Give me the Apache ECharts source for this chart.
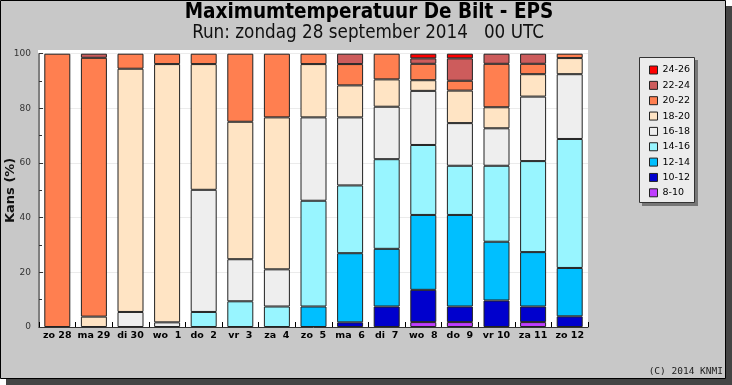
<!DOCTYPE html>
<html>
<head>
<meta charset="utf-8">
<script src="https://cdn.jsdelivr.net/npm/echarts@6/dist/echarts.min.js"></script>
<style>
html,body{margin:0;padding:0;background:#fff;}
#c{width:732px;height:385px;}
</style>
</head>
<body>
<div id="c"></div>
<script>
var days = ['zo 28','ma 29','di 30','wo  1','do  2','vr  3','za  4','zo  5','ma  6','di  7','wo  8','do  9','vr 10','za 11','zo 12'];
var classes = ['8-10','10-12','12-14','14-16','16-18','18-20','20-22','22-24','24-26'];
var colors = ['#bf3eff','#0000cd','#00bfff','#98f5ff','#eeeeee','#ffe4c4','#ff7f50','#cd5c5c','#ff0000'];
var t8_10  = [0,0,0,0,0,0,0,0,0,0,1.8,1.8,0,1.8,0];
var t10_12 = [0,0,0,0,0,0,0,0,1.7,7.5,11.8,5.7,9.7,5.7,3.9];
var t12_14 = [0,0,0,0,0,0,0,7.5,25.3,21.1,27.4,33.5,21.5,19.9,17.7];
var t14_16 = [0,0,0,0,5.5,9.4,7.5,38.7,24.8,32.8,25.6,18.0,27.8,33.3,47.2];
var t16_18 = [0,0,5.5,1.7,44.7,15.4,13.6,30.5,24.9,19.2,19.8,15.6,13.7,23.6,23.7];
var t18_20 = [0,3.8,89.0,94.5,46.0,50.3,55.6,19.5,11.7,10.0,3.9,11.9,7.7,8.2,5.9];
var t20_22 = [100,94.7,5.5,3.8,3.8,24.9,23.3,3.8,7.8,9.4,6.0,3.6,15.9,3.8,1.6];
var t22_24 = [0,1.5,0,0,0,0,0,0,3.8,0,2.0,8.2,3.7,3.7,0];
var t24_26 = [0,0,0,0,0,0,0,0,0,0,1.7,1.7,0,0,0];
var yTicks = [0,20,40,60,80,100];

var values = [t8_10,t10_12,t12_14,t14_16,t16_18,t18_20,t20_22,t22_24,t24_26];
var series = classes.map(function(name,i){
  return {
    name: name, type: 'bar', stack: 'total', barWidth: 26,
    data: values[i].map(function(v){ return v > 0 ? v : null; }),
    itemStyle: {color: colors[i], borderColor: '#222', borderWidth: 1},
    emphasis: {disabled: true}, animation: false
  };
});

var chart = echarts.init(document.getElementById('c'), null, {renderer:'canvas'});
chart.setOption({
  animation: false,
  backgroundColor: '#ffffff',
  title: [
    {text: 'Maximumtemperatuur De Bilt - EPS', left: 369, top: 2, textAlign: 'center', padding: 0,
     textStyle: {fontFamily: "'DejaVu Sans Condensed', 'DejaVu Sans'", fontWeight: 'bold', fontSize: 20.5, color: '#000'}},
    {text: 'Run: zondag 28 september 2014   00 UTC', left: 368, top: 24, textAlign: 'center', padding: 0,
     textStyle: {fontFamily: "'DejaVu Sans Condensed', 'DejaVu Sans'", fontWeight: 'normal', fontSize: 18.7, color: '#111'}}
  ],
  graphic: [
    {type:'rect', z:-10, shape:{x:6,y:6,width:726,height:379}, style:{fill:'#444'}, silent:true},
    {type:'rect', z:-9, shape:{x:0.5,y:0.5,width:725,height:378}, style:{fill:'#c8c8c8', stroke:'#000', lineWidth:1}, silent:true},
    {type:'rect', z:-8, shape:{x:38,y:50,width:550,height:277}, style:{fill:'#ffffff'}, silent:true},
    {type:'rect', z:-7, shape:{x:642,y:60,width:56,height:146}, style:{fill:'#777'}, silent:true},
    {type:'rect', z:-6, shape:{x:639.5,y:57.5,width:55,height:145}, style:{fill:'#ececec', stroke:'#333', lineWidth:1}, silent:true},
    {type:'text', z:5, x:723, y:372, style:{text:'(C) 2014 KNMI', font:"9.5px 'DejaVu Sans Mono'", fill:'#222', textAlign:'right', textVerticalAlign:'middle'}, silent:true}
  ],
  legend: {
    orient: 'vertical', left: 649, top: 65, padding: 0,
    itemWidth: 8, itemHeight: 8, itemGap: 5.35, icon: 'rect',
    data: classes.slice().reverse(),
    itemStyle: {borderColor: '#222', borderWidth: 1},
    textStyle: {fontFamily: 'DejaVu Sans', fontSize: 9.5, color: '#000'},
    selectedMode: false, z: 10
  },
  grid: {left: 39, right: 144, top: 53.7, bottom: 58, containLabel: false, outerBoundsMode: 'none'},
  xAxis: {
    type: 'category', data: days,
    axisLine: {lineStyle: {color: '#333', width: 1}},
    axisTick: {show: true, inside: true, length: 5, lineStyle: {color: '#000'}},
    axisLabel: {interval: 0, margin: 4, fontFamily: 'DejaVu Sans', fontWeight: 'bold', fontSize: 9.5, color: '#000'},
    splitLine: {show: false}
  },
  yAxis: {
    type: 'value', min: 0, max: 100, interval: 20,
    name: 'Kans (%)', nameLocation: 'middle', nameGap: 22, nameRotate: 90, nameMoveOverlap: false,
    nameTextStyle: {fontFamily: 'DejaVu Sans', fontWeight: 'bold', fontSize: 13, color: '#111'},
    axisLine: {show: true, lineStyle: {color: '#555', width: 1.5}},
    axisTick: {show: true, inside: true, length: 4, lineStyle: {color: '#333'}},
    minorTick: {show: true, splitNumber: 2, length: 3, lineStyle: {color: '#333'}},
    axisLabel: {margin: 8, fontFamily: 'DejaVu Sans', fontSize: 9, color: '#333',
      formatter: function(v){ return yTicks.indexOf(v) >= 0 ? String(v) : ''; }},
    splitLine: {show: true, lineStyle: {color: '#ebebeb', width: 1}}
  },
  series: series
});
</script>
</body>
</html>
